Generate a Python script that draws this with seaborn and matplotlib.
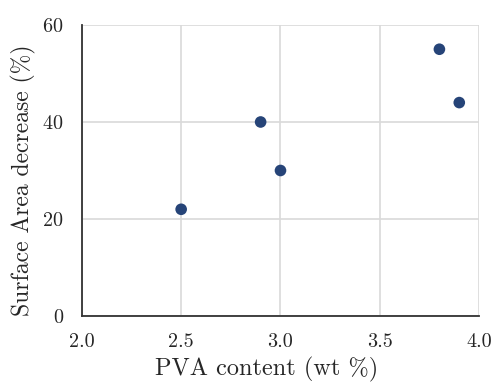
import numpy as np
import pandas as pd
import matplotlib
matplotlib.use("Agg")
import matplotlib.pyplot as plt
import seaborn as sns

# data
pva_content = [2.5, 2.9, 3.0, 3.8, 3.9]
area_decrease = [22, 40, 30, 55, 44]

data = pd.DataFrame({"pva": pva_content, "decrease": area_decrease})

sns.set_style("white")
plt.rcParams["font.family"] = ["serif"]
plt.rcParams["font.serif"] = ["cmr10", "DejaVu Serif"]
plt.rcParams["mathtext.fontset"] = "cm"
plt.rcParams["axes.formatter.use_mathtext"] = True

fig = plt.figure(figsize=(4.96, 3.88), dpi=100)
ax = fig.add_axes([0.165, 0.1856, 0.801, 0.75])

sns.scatterplot(data=data, x="pva", y="decrease", ax=ax, color="#264478",
                s=70, edgecolor="none", zorder=3)

ax.set_xlim(2.0, 4.0)
ax.set_ylim(0, 60)
ax.set_xticks([2.0, 2.5, 3.0, 3.5, 4.0])
ax.set_xticklabels(["2.0", "2.5", "3.0", "3.5", "4.0"])
ax.set_yticks([0, 20, 40, 60])
ax.grid(True, color="#d9d9d9", linewidth=1.2)
ax.set_axisbelow(True)

for side in ["top", "right"]:
    ax.spines[side].set_visible(False)
ax.spines["left"].set_color("#333333")
ax.spines["bottom"].set_color("#333333")
ax.spines["left"].set_linewidth(1.3)
ax.spines["bottom"].set_linewidth(1.3)

ax.tick_params(length=0, labelsize=14.5)
ax.tick_params(axis="y", pad=13)
ax.tick_params(axis="x", pad=12)
ax.set_xlabel("PVA content (wt %)", fontsize=17.5)
ax.set_ylabel("Surface Area decrease (%)", fontsize=17)
ax.xaxis.set_label_coords(0.465, -0.14)
ax.yaxis.set_label_coords(-0.115, 0.465)

plt.savefig("out.png", dpi=100)
